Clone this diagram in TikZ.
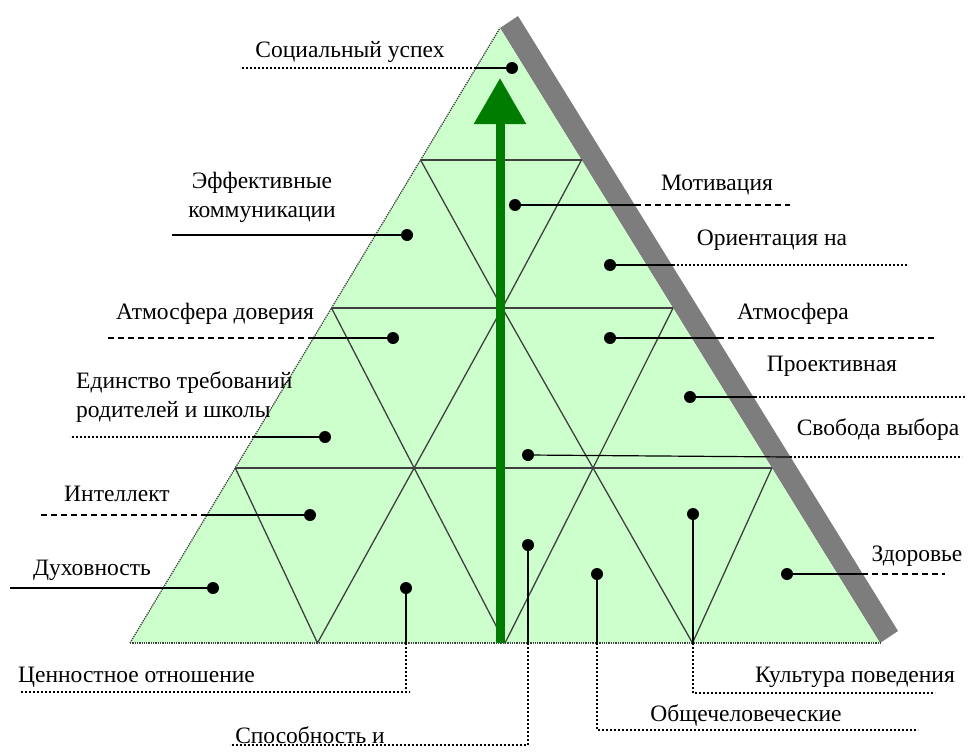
\documentclass[tikz,border=0pt]{standalone}
\usepackage{fontspec}
\setmainfont{Liberation Serif}
\usetikzlibrary{arrows.meta, calc}

\definecolor{lgreen}{RGB}{204,255,204}
\definecolor{agreen}{RGB}{0,125,0}
\definecolor{shadowgray}{RGB}{125,125,125}

\tikzset{
  pt/.style={circle, fill=black, inner sep=0pt, minimum size=12pt},
  lbl/.style={font=\fontsize{23.5}{29}\selectfont, inner sep=0pt},
  lattice/.style={line width=1.3pt, black!75},
  lead/.style={line width=1.2pt},
  leaddash/.style={line width=1.2pt, dash pattern=on 6pt off 4pt},
  leaddot/.style={line width=1.2pt, dash pattern=on 2pt off 2pt},
}

\begin{document}
\begin{tikzpicture}[x=1pt, y=-1pt]
\useasboundingbox (0,0) rectangle (977,752);

\coordinate (A) at (500,28);
\coordinate (L) at (130,643);
\coordinate (R) at (880,643);

% shadow and body
\fill[shadowgray] (A) -- (518,16) -- (898,631) -- (R) -- cycle;
\fill[lgreen] (A) -- (L) -- (R) -- cycle;

% rows of the lattice
\foreach \r/\t in {1/0.2146, 2/0.4553, 3/0.7154, 4/1} {
  \coordinate (L\r) at ($(A)!\t!(L)$);
  \coordinate (R\r) at ($(A)!\t!(R)$);
}
\foreach \r in {1,2,3}
  \draw[lattice] (L\r) -- (R\r);
\foreach \r in {1,2,3} {
  \pgfmathtruncatemacro\n{\r+1}
  \foreach \i in {1,...,\r} {
    \pgfmathtruncatemacro\j{\i-1}
    \draw[lattice] ($(L\r)!\j/\r!(R\r)$) -- ($(L\n)!\i/\n!(R\n)$) -- ($(L\r)!\i/\r!(R\r)$);
  }
}
\draw[lattice, densely dotted] (L) -- (A);
\draw[lattice, densely dotted] (L) -- (R);

% arrow
\coordinate (foot) at (500,643);
\coordinate (tip) at (500,78);
\draw[line width=9pt, agreen, -{Triangle[length=46pt, width=50pt]}] (foot) -- (tip);

% dots
\node[pt] (uspeh) at (512,68) {};
\node[pt] (motiv) at (515,205) {};
\node[pt] (komm) at (407,235) {};
\node[pt] (orient) at (610,265) {};
\node[pt] (dover) at (393,338) {};
\node[pt] (atm) at (610,338) {};
\node[pt] (proekt) at (690,397) {};
\node[pt] (svob) at (528,455) {};
\node[pt] (edin) at (325,437) {};
\node[pt] (intel) at (310,515) {};
\node[pt] (duh) at (213,588) {};
\node[pt] (zdor) at (787,574) {};
\node[pt] (cenn) at (406,588) {};
\node[pt] (sposob) at (528,545) {};
\node[pt] (obsch) at (597,574) {};
\node[pt] (kult) at (693,514) {};

% labels
\node[lbl] (tUspeh) at (350,52) {Социальный успех};
\node[lbl] (tMotiv) at (717,185) {Мотивация};
\node[lbl, align=center] (tKomm) at (262,197) {Эффективные\\коммуникации};
\node[lbl] (tOrient) at (772,240) {Ориентация на};
\node[lbl] (tDover) at (215,314) {Атмосфера доверия};
\node[lbl] (tAtm) at (793,314) {Атмосфера};
\node[lbl] (tProekt) at (832,366) {Проективная};
\node[lbl] (tSvob) at (878,430) {Свобода выбора};
\node[lbl, align=left, anchor=west] (tEdin) at (76,397) {Единство требований\\родителей и школы};
\node[lbl] (tIntel) at (117,494) {Интеллект};
\node[lbl] (tDuh) at (92,570) {Духовность};
\node[lbl] (tZdor) at (917,556) {Здоровье};
\node[lbl, anchor=west] (tCenn) at (18,677) {Ценностное отношение};
\node[lbl] (tSposob) at (310,735) {Способность и};
\node[lbl] (tObsch) at (746,716) {Общечеловеческие};
\node[lbl] (tKult) at (855,677) {Культура поведения};

% leaders to the left
\coordinate (eUspeh) at (476,68);   \coordinate (fUspeh) at (240,68);
\draw[lead] (uspeh) -- (eUspeh);  \draw[leaddot] (eUspeh) -- (fUspeh);
\coordinate (fKomm) at (172,235);
\draw[lead] (komm) -- (fKomm);
\coordinate (eDover) at (314,338);  \coordinate (fDover) at (108,338);
\draw[lead] (dover) -- (eDover);  \draw[leaddash] (eDover) -- (fDover);
\coordinate (eEdin) at (254,437);   \coordinate (fEdin) at (70,437);
\draw[lead] (edin) -- (eEdin);  \draw[leaddot] (eEdin) -- (fEdin);
\coordinate (eIntel) at (207,515);  \coordinate (fIntel) at (38,515);
\draw[lead] (intel) -- (eIntel);  \draw[leaddash] (eIntel) -- (fIntel);
\coordinate (fDuh) at (10,588);
\draw[lead] (duh) -- (fDuh);

% leaders to the right
\coordinate (eMotiv) at (635,205);  \coordinate (fMotiv) at (790,205);
\draw[lead] (motiv) -- (eMotiv);  \draw[leaddash] (eMotiv) -- (fMotiv);
\coordinate (eOrient) at (673,265); \coordinate (fOrient) at (908,265);
\draw[lead] (orient) -- (eOrient);  \draw[leaddot] (eOrient) -- (fOrient);
\coordinate (eAtm) at (718,338);    \coordinate (fAtm) at (935,338);
\draw[lead] (atm) -- (eAtm);  \draw[leaddash] (eAtm) -- (fAtm);
\coordinate (eProekt) at (755,397); \coordinate (fProekt) at (965,397);
\draw[lead] (proekt) -- (eProekt);  \draw[leaddot] (eProekt) -- (fProekt);
\coordinate (eSvob) at (790,457);   \coordinate (fSvob) at (962,457);
\draw[lead] (svob) -- (eSvob);  \draw[leaddot] (eSvob) -- (fSvob);
\coordinate (eZdor) at (862,574);   \coordinate (fZdor) at (945,574);
\draw[lead] (zdor) -- (eZdor);  \draw[leaddash] (eZdor) -- (fZdor);

% leaders down
\coordinate (eCenn) at (406,643);   \coordinate (gCenn) at (410,692);  \coordinate (fCenn) at (20,692);
\draw[lead] (cenn) -- (eCenn);  \draw[leaddot] (eCenn) |- (gCenn) -- (fCenn);
\coordinate (eSposob) at (528,643); \coordinate (gSposob) at (528,745); \coordinate (fSposob) at (230,745);
\draw[lead] (sposob) -- (eSposob);  \draw[leaddot] (eSposob) -- (gSposob) -- (fSposob);
\coordinate (eObsch) at (597,643);  \coordinate (gObsch) at (597,730);  \coordinate (fObsch) at (918,730);
\draw[lead] (obsch) -- (eObsch);  \draw[leaddot] (eObsch) -- (gObsch) -- (fObsch);
\coordinate (eKult) at (693,643);   \coordinate (gKult) at (693,693);   \coordinate (fKult) at (935,693);
\draw[lead] (kult) -- (eKult);  \draw[leaddot] (eKult) -- (gKult) -- (fKult);

\end{tikzpicture}
\end{document}
